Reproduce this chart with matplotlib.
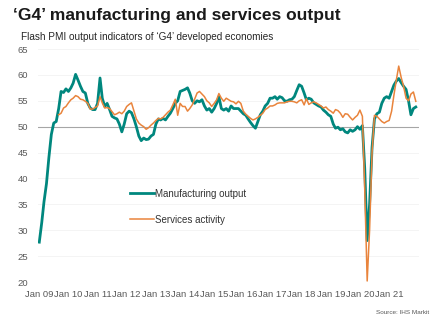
import numpy as np
import pandas as pd
import matplotlib
matplotlib.use('Agg')
import matplotlib.pyplot as plt
import matplotlib.dates as mdates

plt.rcParams['font.family'] = ['Liberation Sans', 'DejaVu Sans']

# monthly flash PMI output indices, G4 economies
mfg_dates = pd.date_range('2009-01-01', '2021-12-01', freq='MS')
mfg_output = [
    27.7, 31.5, 35.5, 39.0, 44.0, 48.5, 50.7, 51.0, 53.5, 56.8, 56.6, 57.3,  # 2009
    56.8, 57.5, 58.4, 60.1, 59.0, 57.8, 56.8, 56.5, 54.5, 53.6, 53.3, 53.3,  # 2010
    54.5, 59.4, 55.5, 53.9, 54.5, 53.3, 52.0, 51.7, 51.5, 50.5, 49.0, 50.5,  # 2011
    52.5, 53.0, 52.7, 51.5, 50.0, 48.2, 47.3, 47.8, 47.5, 47.6, 48.2, 48.5,  # 2012
    50.5, 51.5, 51.3, 51.6, 51.3, 52.0, 52.6, 53.5, 54.5, 55.0, 56.8, 57.0,  # 2013
    57.2, 57.5, 56.5, 55.0, 54.5, 55.0, 54.8, 55.2, 54.0, 53.2, 53.5, 52.8,  # 2014
    53.5, 54.5, 55.8, 53.5, 53.2, 53.5, 53.0, 54.0, 53.5, 53.5, 53.5, 53.0,  # 2015
    52.5, 52.2, 51.5, 50.8, 50.2, 49.7, 51.0, 52.3, 53.0, 54.0, 54.5, 55.5,  # 2016
    55.5, 55.8, 55.3, 55.8, 55.6, 55.0, 54.9, 55.2, 55.3, 55.8, 57.0, 58.1,  # 2017
    57.8, 56.5, 55.2, 55.5, 55.3, 54.6, 54.3, 54.0, 53.8, 53.2, 52.8, 52.3,  # 2018
    52.0, 50.5, 49.7, 49.9, 49.4, 49.6, 49.0, 48.8, 49.4, 49.1, 49.4, 50.0,  # 2019
    49.5, 50.2, 42.0, 28.0, 35.0, 46.0, 51.5, 52.5, 52.8, 54.5, 55.5, 55.8,  # 2020
    55.5, 56.8, 58.0, 58.8, 59.3, 58.5, 57.8, 57.2, 55.0, 52.3, 53.5, 53.8,  # 2021
]

svc_dates = pd.date_range('2009-09-01', '2021-12-01', freq='MS')
svc_activity = [
    52.3, 52.6, 53.6, 53.9,  # 2009 (Sep-Dec)
    54.6, 55.2, 55.5, 56.0, 55.8, 55.3, 55.2, 54.9, 54.5, 53.4, 53.4, 53.7,  # 2010
    54.0, 55.8, 54.6, 53.6, 53.7, 53.5, 52.9, 52.3, 52.5, 52.8, 52.5, 53.0,  # 2011
    53.9, 54.3, 54.6, 53.0, 51.5, 50.7, 50.3, 50.0, 49.5, 49.8, 50.3, 50.7,  # 2012
    51.2, 51.6, 51.5, 51.8, 52.3, 52.8, 53.2, 54.2, 55.3, 52.2, 54.5, 53.9,  # 2013
    53.9, 53.0, 53.5, 54.2, 55.3, 56.5, 56.8, 56.3, 55.8, 55.0, 54.6, 53.9,  # 2014
    54.5, 55.2, 56.4, 55.5, 54.9, 55.5, 55.2, 54.9, 54.8, 54.4, 54.9, 54.5,  # 2015
    53.0, 52.4, 52.0, 51.6, 51.3, 51.5, 51.8, 52.2, 52.6, 53.3, 53.6, 54.0,  # 2016
    54.0, 54.2, 54.5, 54.6, 54.6, 54.6, 54.8, 54.9, 54.9, 54.8, 54.6, 55.0,  # 2017
    55.2, 54.2, 55.4, 54.3, 54.6, 54.8, 54.6, 54.3, 54.0, 53.6, 53.8, 53.3,  # 2018
    53.0, 52.6, 53.3, 53.1, 52.6, 51.8, 52.5, 52.4, 51.8, 51.3, 51.8, 52.2,  # 2019
    53.2, 52.0, 38.0, 20.2, 30.0, 45.0, 52.2, 52.0, 51.5, 51.0, 50.7, 51.0,  # 2020
    51.2, 53.0, 56.0, 59.0, 61.7, 59.5, 57.8, 55.5, 55.0, 56.3, 56.7, 54.9,  # 2021
]

years = list(range(2009, 2022))
yticks = list(range(20, 70, 5))

teal = '#00877e'
orange = '#e9843c'

fig = plt.figure(figsize=(4.43, 3.28), dpi=100)
ax = fig.add_axes([0.0858, 0.1402, 0.860, 0.7104])

for y in yticks:
    ax.axhline(y, color='#f2f2f2', lw=0.6, zorder=0)
ax.axhline(50, color='#a6a6a6', lw=0.8, zorder=1)

ax.plot(mfg_dates, mfg_output, color=teal, lw=2.0, label='Manufacturing output', zorder=3)
ax.plot(svc_dates, svc_activity, color=orange, lw=1.1, label='Services activity', zorder=4)

ax.set_xlim(pd.Timestamp('2008-12-16'), pd.Timestamp('2022-01-10'))
ax.set_ylim(20, 65)
ax.set_yticks(yticks)
ax.set_xticks([pd.Timestamp(f'{y}-01-01') for y in years])
ax.xaxis.set_major_formatter(mdates.DateFormatter('Jan %y'))
ax.tick_params(length=0, labelsize=6.8, colors='#595959', pad=7)
ax.tick_params(axis='x', pad=6)
for s in ax.spines.values():
    s.set_visible(False)

ax.legend(loc='upper left', bbox_to_anchor=(0.219, 0.438), frameon=False,
          fontsize=7, handlelength=2.4, handletextpad=0.2, labelspacing=1.65,
          labelcolor='#333333')

fig.text(0.029, 0.953, '\u2018G4\u2019 manufacturing and services output',
         fontsize=12.5, fontweight='bold', va='center', ha='left', color='#1a1a1a')
fig.text(0.047, 0.888, 'Flash PMI output indicators of \u2018G4\u2019 developed economies',
         fontsize=7.2, va='center', ha='left', color='#262626')
fig.text(0.968, 0.048, 'Source: IHS Markit', fontsize=4.6, ha='right', va='center',
         color='#595959')

fig.savefig('out.png', dpi=100)
